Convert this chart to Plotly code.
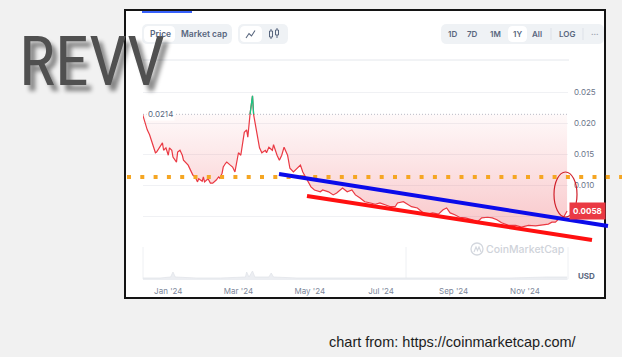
import plotly.graph_objects as go
import pandas as pd

# ---------------- data ----------------
dates = [
    "2023-12-10", "2023-12-12", "2023-12-14", "2023-12-16", "2023-12-18", "2023-12-21",
    "2023-12-22", "2023-12-25", "2023-12-27", "2023-12-28", "2023-12-30", "2024-01-01",
    "2024-01-02", "2024-01-04", "2024-01-05", "2024-01-08", "2024-01-09", "2024-01-11",
    "2024-01-13", "2024-01-14", "2024-01-16", "2024-01-18", "2024-01-20", "2024-01-22",
    "2024-01-24", "2024-01-26", "2024-01-27", "2024-01-30", "2024-01-31", "2024-02-01",
    "2024-02-04", "2024-02-06", "2024-02-08", "2024-02-11", "2024-02-13", "2024-02-14",
    "2024-02-16", "2024-02-17", "2024-02-19", "2024-02-20", "2024-02-23", "2024-02-25",
    "2024-02-27", "2024-03-01", "2024-03-03", "2024-03-06", "2024-03-08", "2024-03-09",
    "2024-03-11", "2024-03-13", "2024-03-14", "2024-03-16", "2024-03-18", "2024-03-19",
    "2024-03-21", "2024-03-24", "2024-03-25", "2024-03-27", "2024-03-30", "2024-03-31",
    "2024-04-03", "2024-04-05", "2024-04-07", "2024-04-09", "2024-04-12", "2024-04-14",
    "2024-04-17", "2024-04-20", "2024-04-23", "2024-04-25", "2024-04-29", "2024-05-02",
    "2024-05-05", "2024-05-10", "2024-05-12", "2024-05-17", "2024-05-21", "2024-05-24",
    "2024-05-29", "2024-06-02", "2024-06-06", "2024-06-09", "2024-06-13", "2024-06-17",
    "2024-06-22", "2024-06-26", "2024-06-30", "2024-07-04", "2024-07-09", "2024-07-13",
    "2024-07-15", "2024-07-20", "2024-07-24", "2024-07-27", "2024-08-01", "2024-08-05",
    "2024-08-08", "2024-08-10", "2024-08-14", "2024-08-19", "2024-08-23", "2024-08-26",
    "2024-08-29", "2024-09-02", "2024-09-06", "2024-09-11", "2024-09-17", "2024-09-21",
    "2024-09-25", "2024-09-30", "2024-10-04", "2024-10-08", "2024-10-12", "2024-10-18",
    "2024-10-24", "2024-10-29", "2024-11-04", "2024-11-10", "2024-11-16", "2024-11-21",
    "2024-11-24", "2024-11-27", "2024-12-01", "2024-12-04", "2024-12-07",
]
prices = [
    0.0214, 0.0200, 0.0189, 0.0181, 0.0168, 0.0152,
    0.0153, 0.0161, 0.0168, 0.0156, 0.0160, 0.0148,
    0.0160, 0.0156, 0.0145, 0.0137, 0.0153, 0.0156,
    0.0148, 0.0140, 0.0135, 0.0132, 0.0124, 0.0116,
    0.0113, 0.0105, 0.0110, 0.0106, 0.0113, 0.0105,
    0.0110, 0.0103, 0.0103, 0.0108, 0.0113, 0.0111,
    0.0119, 0.0129, 0.0135, 0.0137, 0.0132, 0.0129,
    0.0121, 0.0152, 0.0148, 0.0185, 0.0189, 0.0177,
    0.0216, 0.0244, 0.0213, 0.0194, 0.0173, 0.0160,
    0.0152, 0.0156, 0.0152, 0.0161, 0.0156, 0.0165,
    0.0148, 0.0140, 0.0148, 0.0161, 0.0148, 0.0127,
    0.0121, 0.0127, 0.0132, 0.0121, 0.0108, 0.0097,
    0.0092, 0.0089, 0.0092, 0.0089, 0.0084, 0.0087,
    0.0095, 0.0089, 0.0092, 0.0084, 0.0079, 0.0073,
    0.0071, 0.0069, 0.0071, 0.0068, 0.0065, 0.0065,
    0.0071, 0.0073, 0.0069, 0.0065, 0.0063, 0.0056,
    0.0052, 0.0053, 0.0055, 0.0053, 0.0060, 0.0063,
    0.0055, 0.0052, 0.0048, 0.0047, 0.0044, 0.0040,
    0.0047, 0.0048, 0.0047, 0.0044, 0.0039, 0.0035,
    0.0035, 0.0032, 0.0035, 0.0034, 0.0035, 0.0037,
    0.0040, 0.0040, 0.0047, 0.0048, 0.0058,
]
start_price = 0.0214
last_price = 0.0058

vol_dates = [
    "2023-12-10", "2023-12-25", "2024-01-03", "2024-01-05", "2024-01-07", "2024-01-25",
    "2024-02-15", "2024-03-01", "2024-03-07", "2024-03-08", "2024-03-10", "2024-03-13",
    "2024-03-15", "2024-03-27", "2024-03-29", "2024-03-31", "2024-04-20", "2024-05-20",
    "2024-06-20", "2024-07-20", "2024-08-20", "2024-09-20", "2024-10-20", "2024-11-20",
    "2024-12-07",
]
vol_values = [2, 2, 3, 8, 3, 2, 2, 3, 3, 8, 3, 9, 3, 3, 7, 3, 2, 2, 2, 2, 2, 2, 2, 3, 3]

tick_dates = ["2024-01-01", "2024-03-01", "2024-05-01", "2024-07-01", "2024-09-01", "2024-11-01"]
tick_labels = ["Jan '24", "Mar '24", "May '24", "Jul '24", "Sep '24", "Nov '24"]
y_ticks = [0.0, 0.005, 0.010, 0.015, 0.020, 0.025]
y_tick_labels = ["", "", "0.010", "0.015", "0.020", "0.025"]

range_buttons = ["1D", "7D", "1M", "1Y", "All", "LOG", "···"]

# ---------------- layout helpers (pixel -> paper) ----------------
W, H = 622, 357
def PX(x):
    return x / W
def PY(y):
    return 1 - y / H

def rrect(x0, y0, x1, y1, r):
    pts = [
        ("M", x0 + r, y0), ("L", x1 - r, y0), ("Q", x1, y0, x1, y0 + r),
        ("L", x1, y1 - r), ("Q", x1, y1, x1 - r, y1), ("L", x0 + r, y1),
        ("Q", x0, y1, x0, y1 - r), ("L", x0, y0 + r), ("Q", x0, y0, x0 + r, y0),
    ]
    s = ""
    for p in pts:
        cmd = p[0]
        coords = p[1:]
        parts = []
        for i in range(0, len(coords), 2):
            parts.append(f"{PX(coords[i]):.5f},{PY(coords[i+1]):.5f}")
        s += cmd + " " + " ".join(parts) + " "
    return s + "Z"

def poly(points):
    return "M " + " L ".join(f"{PX(x):.5f},{PY(y):.5f}" for x, y in points)

FONT = "Inter, Roboto, sans-serif"
GREY_TXT = "#58667e"

fig = go.Figure()

# volume strip
fig.add_trace(go.Scatter(
    x=vol_dates, y=vol_values, xaxis="x", yaxis="y2", mode="lines",
    line=dict(color="#e2e5ea", width=0.8), fill="tozeroy", fillcolor="#eceef2",
    hoverinfo="skip"))

# baseline + price with gradient fill between them
fig.add_trace(go.Scatter(
    x=dates, y=[start_price] * len(dates), mode="lines",
    line=dict(width=0, color="rgba(0,0,0,0)"), hoverinfo="skip"))
fig.add_trace(go.Scatter(
    x=dates, y=prices, mode="lines", line=dict(color="#ea3943", width=1.2),
    fill="tonexty",
    fillgradient=dict(type="vertical",
                      colorscale=[[0, "rgba(234,57,67,0.28)"], [1, "rgba(234,57,67,0.03)"]],
                      start=0.003, stop=start_price)))

# green part above the start price
ts = pd.to_datetime(dates)
gx, gy = [], []
for i in range(len(prices) - 1):
    p0, p1 = prices[i], prices[i + 1]
    t0, t1 = ts[i], ts[i + 1]
    if p0 >= start_price and i > 0:
        gx.append(t0); gy.append(p0)
    if (p0 - start_price) * (p1 - start_price) < 0:
        f = (start_price - p0) / (p1 - p0)
        gx.append(t0 + (t1 - t0) * f); gy.append(start_price)
        if p1 < start_price:
            gx.append(None); gy.append(None)
fig.add_trace(go.Scatter(x=gx, y=gy, mode="lines", line=dict(color="#16c784", width=1.3),
                         hoverinfo="skip"))

shapes = []
# white screenshot frame
shapes.append(dict(type="rect", xref="paper", yref="paper", x0=PX(125), x1=PX(605),
                   y0=PY(298), y1=PY(10), fillcolor="white", line=dict(color="#141414", width=2),
                   layer="below"))
# tab indicator
shapes.append(dict(type="rect", xref="paper", yref="paper", x0=PX(142), x1=PX(192),
                   y0=PY(13), y1=PY(11), fillcolor="#3861fb", line=dict(width=0), layer="below"))
# pills
for (a, b, c, d, col, r) in [
    (142, 24, 232, 44, "#eff2f5", 6), (144, 26, 175, 42, "white", 5),
    (238, 24, 288, 44, "#eff2f5", 6), (240, 26, 262, 42, "white", 5),
    (441, 24, 604, 44, "#eff2f5", 6), (508, 26, 527, 42, "white", 5),
]:
    shapes.append(dict(type="path", xref="paper", yref="paper", path=rrect(a, b, c, d, r),
                       fillcolor=col, line=dict(width=0), layer="below"))
for sx in (551, 583):
    shapes.append(dict(type="line", xref="paper", yref="paper", x0=PX(sx), x1=PX(sx),
                       y0=PY(28), y1=PY(40), line=dict(color="#dde1e8", width=1), layer="below"))
# icons
shapes.append(dict(type="path", xref="paper", yref="paper",
                   path=poly([(246, 38), (249, 33.5), (251.5, 36), (255, 30.5)]),
                   line=dict(color=GREY_TXT, width=1.1), layer="below"))
for (cx, t, b, wt, wb) in [(271, 29, 39, 31, 37), (277, 28, 38, 30, 35)]:
    shapes.append(dict(type="line", xref="paper", yref="paper", x0=PX(cx), x1=PX(cx),
                       y0=PY(b), y1=PY(t), line=dict(color=GREY_TXT, width=1), layer="below"))
    shapes.append(dict(type="rect", xref="paper", yref="paper", x0=PX(cx - 1.5), x1=PX(cx + 1.5),
                       y0=PY(wb), y1=PY(wt), fillcolor="#eff2f5",
                       line=dict(color=GREY_TXT, width=1), layer="below"))
# chart top line and volume panel lines
shapes.append(dict(type="line", xref="paper", yref="paper", x0=PX(143), x1=PX(569),
                   y0=PY(60), y1=PY(60), line=dict(color="#e4e7ec", width=1), layer="below"))
shapes.append(dict(type="line", xref="paper", yref="paper", x0=PX(143), x1=PX(568),
                   y0=PY(279), y1=PY(279), line=dict(color="#eef0f3", width=1), layer="below"))
for vx in (143, 406, 568):
    shapes.append(dict(type="line", xref="paper", yref="paper", x0=PX(vx), x1=PX(vx),
                       y0=PY(279), y1=PY(247), line=dict(color="#eef0f3", width=1), layer="below"))
# start price dotted baseline
shapes.append(dict(type="line", xref="x domain", yref="y", x0=0, x1=1, y0=start_price, y1=start_price,
                   line=dict(color="#b8bec9", width=1, dash="1px,2px"), layer="below"))
# watermark logo
shapes.append(dict(type="circle", xref="paper", yref="paper", x0=PX(471), x1=PX(483),
                   y0=PY(255), y1=PY(243), line=dict(color="#d3d7de", width=1.3), layer="below"))
shapes.append(dict(type="path", xref="paper", yref="paper",
                   path=poly([(474, 252), (476, 247), (477.5, 250.5), (479, 247), (481, 252)]),
                   line=dict(color="#d3d7de", width=1.1), layer="below"))

# hand-drawn overlays
shapes.append(dict(type="line", xref="paper", yref="paper", x0=PX(127), x1=PX(622),
                   y0=PY(177), y1=PY(177), line=dict(color="#f5a623", width=4, dash="4px,9.3px"),
                   layer="above"))
shapes.append(dict(type="line", xref="paper", yref="paper", x0=PX(279), x1=PX(608),
                   y0=PY(174), y1=PY(226), line=dict(color="#0b0bea", width=4), layer="above"))
shapes.append(dict(type="line", xref="paper", yref="paper", x0=PX(307), x1=PX(592),
                   y0=PY(196), y1=PY(240), line=dict(color="#ff1010", width=4), layer="above"))
shapes.append(dict(type="circle", xref="paper", yref="paper", x0=PX(554), x1=PX(577),
                   y0=PY(217), y1=PY(172), line=dict(color="#d0202a", width=1.2), layer="above"))

def txt(text, x, y, size, color, weight=None, family=FONT, xanchor="center", **kw):
    f = dict(family=family, size=size, color=color)
    if weight:
        f["weight"] = weight
    d = dict(text=text, xref="paper", yref="paper", x=PX(x), y=PY(y), xanchor=xanchor,
             yanchor="middle", showarrow=False, font=f)
    d.update(kw)
    return d

annotations = []
annotations.append(dict(text="REVV", xref="paper", yref="paper", x=PX(17), y=PY(62),
                        xanchor="left", yanchor="middle", showarrow=False,
                        font=dict(family="Roboto Condensed, DejaVu Sans Condensed, Liberation Sans Narrow",
                                  size=68, color="#505050",
                                  shadow="5px 6px 4px rgba(0,0,0,0.45)")))
annotations.append(txt("Price", 160, 34, 8.5, GREY_TXT, 600))
annotations.append(txt("Market cap", 204, 34, 8.5, GREY_TXT, 600))
for lbl, bx in zip(range_buttons, [452, 473, 495, 517, 537, 567, 595]):
    annotations.append(txt(lbl, bx, 34, 8, GREY_TXT if lbl != "···" else "#a1a7b3", 600))
annotations.append(dict(text=f"{start_price:.4f}", xref="x domain", yref="y", x=0.008, y=start_price,
                        xanchor="left", yanchor="middle", showarrow=False, bgcolor="white",
                        borderpad=1, font=dict(family=FONT, size=8, color=GREY_TXT)))
annotations.append(dict(text=f"<b>{last_price:.4f}</b>", xref="paper", yref="y", x=PX(569), y=last_price,
                        xanchor="left", yanchor="middle", showarrow=False, bgcolor="#ea3943",
                        borderpad=3, font=dict(family=FONT, size=8, color="white")))
annotations.append(txt("<b>USD</b>", 586, 276, 8, GREY_TXT))
annotations.append(txt("CoinMarketCap", 525, 250, 10.5, "#cfd3da", 500))
annotations.append(txt("chart from: https://coinmarketcap.com/", 453, 342, 14.5, "#1c1c1c",
                       family="Liberation Sans, Arial, sans-serif"))

fig.update_layout(
    width=W, height=H, margin=dict(l=0, r=0, t=0, b=0),
    paper_bgcolor="#f1f1f1", plot_bgcolor="rgba(0,0,0,0)", showlegend=False,
    shapes=shapes, annotations=annotations,
    xaxis=dict(domain=[PX(143), PX(568)], type="date",
               range=["2023-12-10 09:00", "2024-12-07 19:00"], anchor="y2",
               tickvals=tick_dates, ticktext=tick_labels, showgrid=False, zeroline=False,
               showline=False, ticks="", ticklabelstandoff=5,
               tickfont=dict(family=FONT, size=8, color="#7d879a")),
    yaxis=dict(domain=[PY(247), PY(61)], range=[0, 0.03], side="right", anchor="x",
               tickvals=y_ticks, ticktext=y_tick_labels, showgrid=True, gridcolor="#f0f1f4",
               zeroline=False, showline=False, ticks="", ticklabelstandoff=5,
               tickfont=dict(family=FONT, size=8, color="#6b758a")),
    yaxis2=dict(domain=[PY(280), PY(247)], range=[0, 33], anchor="x", visible=False),
)

fig.write_html("out.html", config={"displayModeBar": False},
               post_script="document.body.style.margin='0px';document.body.style.overflow='hidden';")
